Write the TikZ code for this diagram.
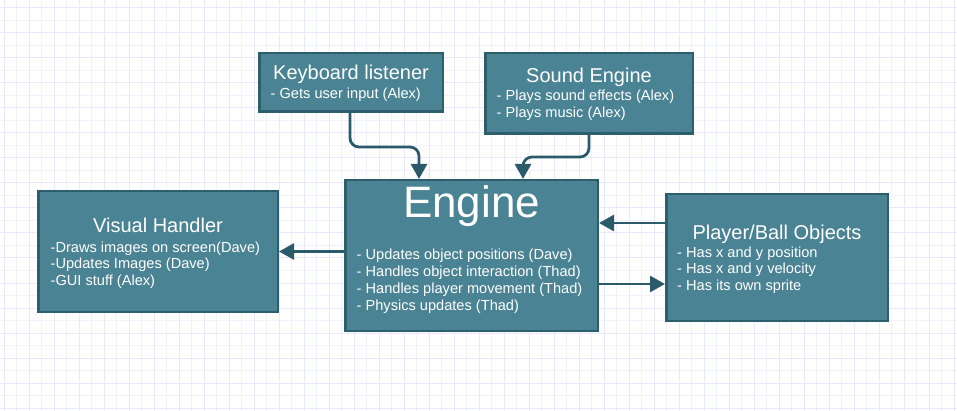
\documentclass[tikz,border=0pt]{standalone}
\usepackage{fontspec}
\setmainfont{Liberation Sans}
\usetikzlibrary{arrows.meta}
\definecolor{boxfill}{HTML}{4A8394}
\definecolor{boxline}{HTML}{2D5E6E}
\definecolor{linkcol}{HTML}{2B5A6A}
\definecolor{gridmajor}{HTML}{E8E8FF}
\definecolor{gridminor}{HTML}{F2F2FF}
\newcommand{\notelines}[1]{\begin{tabular}[t]{@{}l@{}}#1\end{tabular}}

\begin{document}
\begin{tikzpicture}[
x=1pt, y=-1pt,
block/.style={draw=boxline, fill=boxfill, line width=2.5pt, inner sep=0pt},
heading/.style={text=white, font=\fontsize{20}{24}\selectfont, inner sep=0pt, anchor=base},
notes/.style={text=white, font=\fontsize{14.6}{16.8}\selectfont, inner sep=0pt, anchor=base west},
link/.style={draw=linkcol, line width=2.8pt, rounded corners=9pt, -{Triangle[length=15pt,width=16pt]}}
]
\useasboundingbox (0,0) rectangle (957,411);
% grid paper
\foreach \gx in {16.5,41.5,...,957} \draw[gridminor, line width=1pt] (\gx,0) -- (\gx,411);
\foreach \gy in {20.5,45.5,...,411} \draw[gridminor, line width=1pt] (0,\gy) -- (957,\gy);
\foreach \gx in {4,29,...,957} \draw[gridmajor, line width=1pt] (\gx,0) -- (\gx,411);
\foreach \gy in {8,33,...,411} \draw[gridmajor, line width=1pt] (0,\gy) -- (957,\gy);

% boxes
\node[block, minimum width=183.5, minimum height=58.5] (kbd) at (351,82.5) {};
\node[block, minimum width=207.5, minimum height=80.5] (snd) at (589,93.5) {};
\node[block, minimum width=252.5, minimum height=150.5] (eng) at (471.5,255.5) {};
\node[block, minimum width=239.5, minimum height=120.5] (vis) at (158,251.5) {};
\node[block, minimum width=221.5, minimum height=126.5] (obj) at (777,257.5) {};

% connectors
\draw[link] ([xshift=-1pt]kbd.south) -- ++(0,34) -| ([xshift=-52.5pt]eng.north);
\draw[link] (snd.south) -- ++(0,22) -| ([xshift=51.5pt]eng.north);
\draw[link] (eng.west |- vis.east) -- (vis.east);
\coordinate (objIn) at ([yshift=34.5pt]obj.west);
\draw[link] (objIn) -- (objIn -| eng.east);
\coordinate (engOut) at ([yshift=-28.5pt]eng.east);
\draw[link] (engOut) -- (engOut -| obj.west);

% texts
\node[heading] (kbdT) at (351,79.3) {Keyboard listener};
\node[notes] (kbdN) at (270.5,98.5) {- Gets user input (Alex)};

\node[heading] (sndT) at (589,82.6) {Sound Engine};
\node[notes] (sndN) at (496.5,100.5) {\notelines{- Plays sound effects (Alex)\\- Plays music (Alex)}};

\node[heading, font=\fontsize{44}{50}\selectfont] (engT) at (471.5,218) {Engine};
\node[notes] (engN) at (356.5,259.8) {\notelines{- Updates object positions (Dave)\\- Handles object interaction (Thad)\\- Handles player movement (Thad)\\- Physics updates (Thad)}};

\node[heading] (visT) at (158,232.6) {Visual Handler};
\node[notes] (visN) at (50.5,252.2) {\notelines{-Draws images on screen(Dave)\\-Updates Images (Dave)\\-GUI stuff (Alex)}};

\node[heading] (objT) at (777,239.3) {Player/Ball Objects};
\node[notes] (objN) at (677,257.2) {\notelines{- Has x and y position\\- Has x and y velocity\\- Has its own sprite}};
\end{tikzpicture}
\end{document}
